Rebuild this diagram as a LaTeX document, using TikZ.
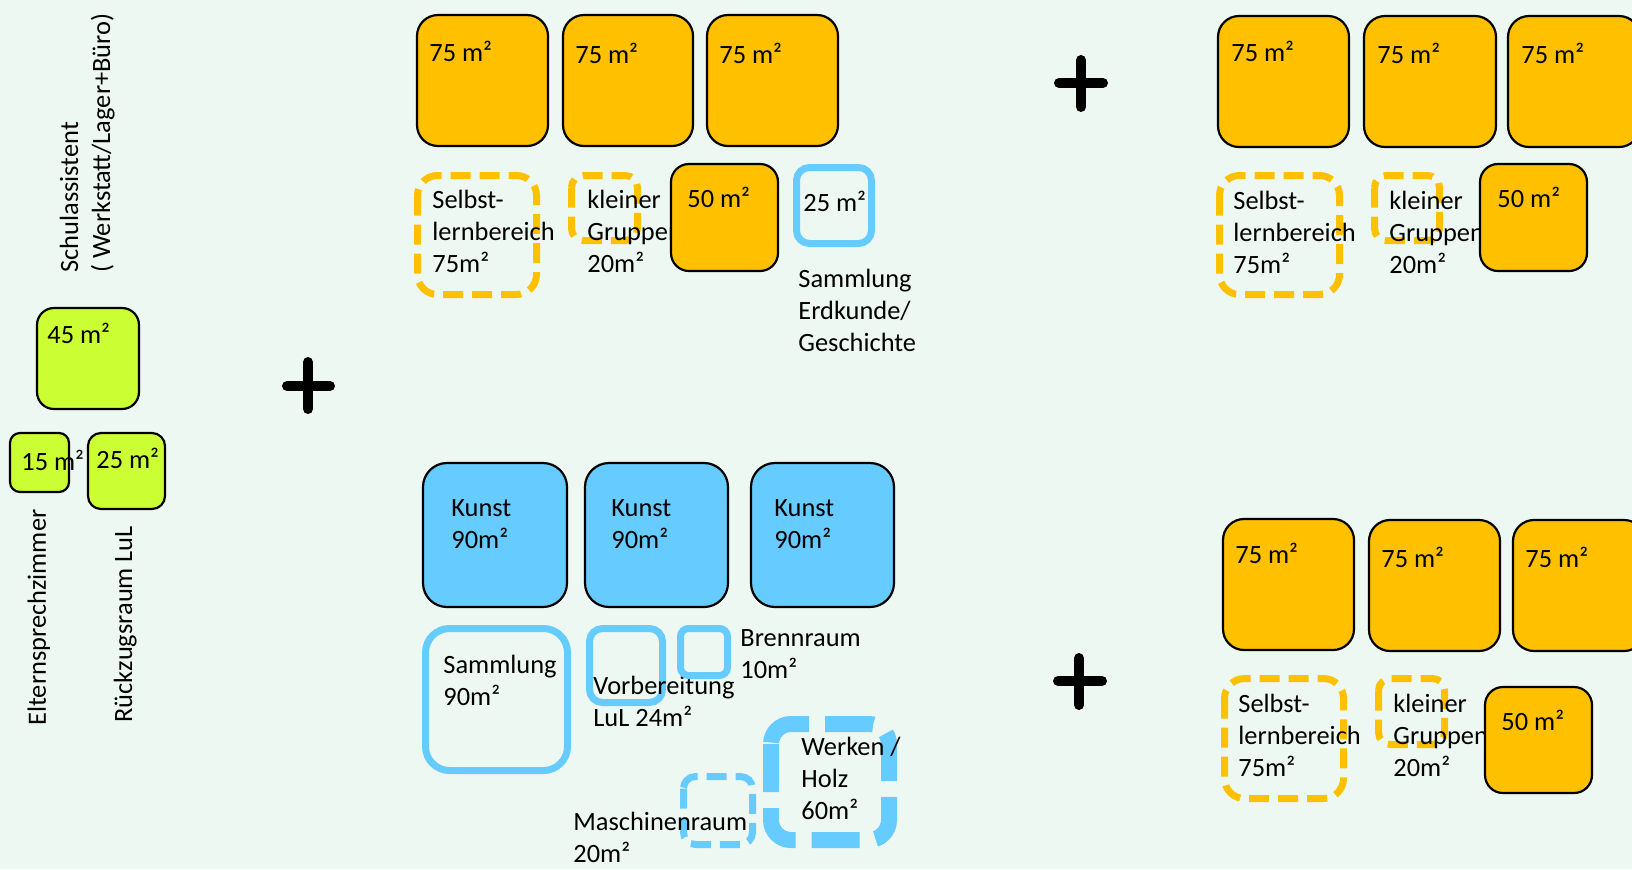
\documentclass[tikz,border=0pt]{standalone}
\usepackage{fontspec}
\setmainfont{Carlito}
\definecolor{bgmint}{RGB}{238,248,242}
\definecolor{roomorange}{RGB}{255,192,0}
\definecolor{roomlime}{RGB}{204,255,51}
\definecolor{roomblue}{RGB}{102,204,255}

\begin{document}
\begin{tikzpicture}[x=0.5pt,y=-0.5pt,
    orangeroom/.style={draw=black,line width=1.1pt,fill=roomorange},
    limeroom/.style={draw=black,line width=1.1pt,fill=roomlime},
    blueroom/.style={draw=black,line width=1.1pt,fill=roomblue},
    blueline/.style={draw=roomblue,line width=3.5pt},
    orangedash/.style={draw=roomorange,line width=3.5pt,dash pattern=on 10pt off 4.5pt},
    bluedash/.style={draw=roomblue,line width=3.5pt,dash pattern=on 10pt off 4.5pt},
    plussign/.style={line width=5pt,line cap=round},
    lbl/.style={inner sep=0pt,anchor=base west,align=left,
      font=\fontsize{13.2}{16}\selectfont}]
		\useasboundingbox (0,0) rectangle (1632,869);
		\fill[bgmint] (0,0) rectangle (1632,869);
		\clip (0,0) rectangle (1632,869);

		% Schulassistent, Elternsprechzimmer, Rueckzugsraum
		\draw[limeroom,rounded corners=8.5pt] (37,308) rectangle (139,409);
		\node[lbl] (lime45) at (47,343) {45 m²};
		\draw[limeroom,rounded corners=5pt] (10,433) rectangle (69,492);
		\node[lbl] (lime15) at (21,470) {15 m²};
		\draw[limeroom,rounded corners=6.5pt] (88,433) rectangle (165,509);
		\node[lbl] (lime25) at (96,468) {25 m²};
		\node[lbl,rotate=90] (schulass) at (110,273) {Schulassistent\\( Werkstatt/Lager+Büro)};
		\node[lbl,rotate=90] (eltern) at (46,726) {Elternsprechzimmer};
		\node[lbl,rotate=90] (rueckzug) at (132,723) {Rückzugsraum LuL};

		\draw[plussign] (287,386) -- (330,386) (308,362) -- (308,409);
		\draw[plussign] (1059,83) -- (1103,83) (1081,60) -- (1081,107);
		\draw[plussign] (1058,681) -- (1102,681) (1079,658) -- (1079,705);

		% Klassenraeume oben
		\draw[orangeroom,rounded corners=10.5pt] (417,15) rectangle (548,146);
		\draw[orangeroom,rounded corners=10.5pt] (563,15) rectangle (693,146);
		\draw[orangeroom,rounded corners=10.5pt] (707,15) rectangle (838,146);
		\node[lbl] (oa1) at (429,61) {75 m²};
		\node[lbl] (oa2) at (575,63) {75 m²};
		\node[lbl] (oa3) at (719,63) {75 m²};
		\draw[orangedash,rounded corners=10pt] (417.5,175.5) rectangle (536.5,294.5);
		\node[lbl] (selbsta) at (432,272) {Selbst-\\lernbereich\\75m²};
		\draw[orangedash,rounded corners=6pt] (571.5,175.5) rectangle (637.5,240.5);
		\node[lbl] (kleinera) at (587,272) {kleiner\\Gruppen\\20m²};
		\draw[orangeroom,rounded corners=9pt] (671,164) rectangle (778,271);
		\node[lbl] (fuenfziga) at (687,207) {50 m²};
		\draw[blueline,rounded corners=6.5pt] (796.5,167.5) rectangle (871.5,243.5);
		\node[lbl] (erdk) at (803,211) {25 m²};
		\node[lbl] (erdktxt) at (798,351) {Sammlung\\Erdkunde/\\Geschichte};

		% rechts oben
		\draw[orangeroom,rounded corners=10.5pt] (1218,16) rectangle (1349,147);
		\draw[orangeroom,rounded corners=10.5pt] (1364,16) rectangle (1496,147);
		\draw[orangeroom,rounded corners=10.5pt] (1508,16) rectangle (1640,147);
		\node[lbl] (ob1) at (1231,61) {75 m²};
		\node[lbl] (ob2) at (1377,63) {75 m²};
		\node[lbl] (ob3) at (1521,63) {75 m²};
		\draw[orangedash,rounded corners=10pt] (1219.5,175.5) rectangle (1339.5,294.5);
		\node[lbl] (selbstb) at (1233,273) {Selbst-\\lernbereich\\75m²};
		\draw[orangedash,rounded corners=6pt] (1374.5,175.5) rectangle (1439.5,240.5);
		\node[lbl] (kleinerb) at (1389,273) {kleiner\\Gruppen\\20m²};
		\draw[orangeroom,rounded corners=9pt] (1480,164) rectangle (1587,271);
		\node[lbl] (fuenfzigb) at (1497,207) {50 m²};

		% rechts unten
		\draw[orangeroom,rounded corners=10.5pt] (1223,519) rectangle (1354,650);
		\draw[orangeroom,rounded corners=10.5pt] (1369,520) rectangle (1500,651);
		\draw[orangeroom,rounded corners=10.5pt] (1513,520) rectangle (1645,651);
		\node[lbl] (oc1) at (1235,563) {75 m²};
		\node[lbl] (oc2) at (1381,567) {75 m²};
		\node[lbl] (oc3) at (1525,567) {75 m²};
		\draw[orangedash,rounded corners=10pt] (1224.5,678.5) rectangle (1343.5,798.5);
		\node[lbl] (selbstc) at (1238,776) {Selbst-\\lernbereich\\75m²};
		\draw[orangedash,rounded corners=6pt] (1378.5,678.5) rectangle (1444.5,744.5);
		\node[lbl] (kleinerc) at (1393,776) {kleiner\\Gruppen\\20m²};
		\draw[orangeroom,rounded corners=9pt] (1485,687) rectangle (1592,793);
		\node[lbl] (fuenfzigc) at (1501,730) {50 m²};

		% Kunst / Werken
		\draw[blueroom,rounded corners=12pt] (423,463) rectangle (567,607);
		\draw[blueroom,rounded corners=12pt] (585,463) rectangle (728,607);
		\draw[blueroom,rounded corners=12pt] (751,463) rectangle (894,607);
		\node[lbl] (kunst1) at (451,548) {Kunst\\90m²};
		\node[lbl] (kunst2) at (611,548) {Kunst\\90m²};
		\node[lbl] (kunst3) at (774,548) {Kunst\\90m²};
		\draw[blueline,rounded corners=12pt] (425.5,628.5) rectangle (567.5,770.5);
		\node[lbl] (samml) at (443,705) {Sammlung\\90m²};
		\draw[blueline,rounded corners=6.5pt] (589.5,628.5) rectangle (662.5,702.5);
		\node[lbl] (vorber) at (593,726) {Vorbereitung\\LuL 24m²};
		\draw[blueline,rounded corners=4pt] (680.5,628.5) rectangle (727.5,675.5);
		\node[lbl] (brenn) at (740,678) {Brennraum\\10m²};
		\draw[bluedash,line width=8pt,dash pattern=on 24pt off 8pt,rounded corners=10pt] (771,724) rectangle (889,840);
		\node[lbl] (werken) at (801,819) {Werken /\\Holz\\60m²};
		\draw[bluedash,rounded corners=6pt] (683.5,776.5) rectangle (752.5,844.5);
		\node[lbl] (maschin) at (573,862) {Maschinenraum\\20m²};
		\end{tikzpicture}
\end{document}
